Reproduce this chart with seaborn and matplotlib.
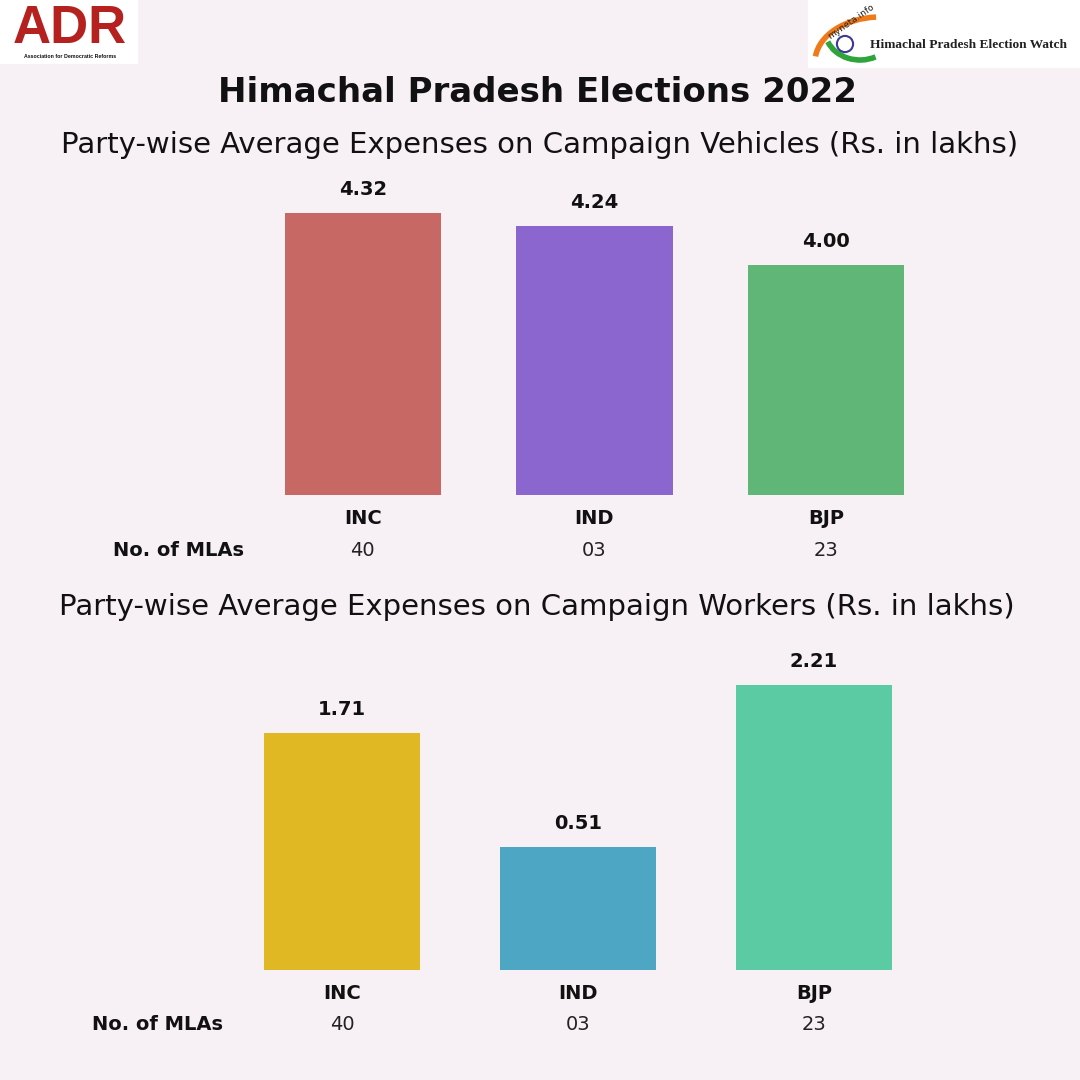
import matplotlib
matplotlib.use("Agg")
import matplotlib.pyplot as plt
import matplotlib.patches as mpatches
from matplotlib.transforms import blended_transform_factory
import seaborn as sns

parties = ["INC", "IND", "BJP"]
vehicle_exp = [4.32, 4.24, 4.00]
worker_exp = [1.71, 0.51, 2.21]
mla_counts = ["40", "03", "23"]
vehicle_colors = ["#C86865", "#8C66CF", "#5FB677"]
worker_colors = ["#E0B824", "#4DA6C4", "#5BCBA3"]

title = "Himachal Pradesh Elections 2022"
sub_vehicles = "Party-wise Average Expenses on Campaign Vehicles (Rs. in lakhs)"
sub_workers = "Party-wise Average Expenses on Campaign Workers (Rs. in lakhs)"

BG = "#F7F0F4"
INK = "#111111"
sns.set_theme(style="white")
plt.rcParams["font.family"] = ["DejaVu Sans"]

W = H = 1080
fig = plt.figure(figsize=(10.8, 10.8), dpi=100, facecolor=BG)


def px_axes(left, top, right, bottom):
    return fig.add_axes([left / W, 1 - bottom / H, (right - left) / W, (bottom - top) / H])


def draw_panel(ax, values, colors, width, ylim, mla_y, mla_x):
    # the original design uses a truncated value axis, so bars start at the axis floor
    base = ylim[0]
    heights = [v - base for v in values]
    sns.barplot(x=parties, y=heights, hue=parties, palette=colors, width=width,
                saturation=1, legend=False, bottom=base, linewidth=0, ax=ax)
    ax.set_facecolor(BG)
    ax.set_xlim(-0.5, 2.5)
    ax.set_ylim(*ylim)
    ax.set_yticks([])
    ax.set_ylabel("")
    ax.set_xlabel("")
    for s in ax.spines.values():
        s.set_visible(False)
    ax.tick_params(axis="x", length=0, pad=10)
    for lbl in ax.get_xticklabels():
        lbl.set_fontweight("bold")
        lbl.set_fontsize(14)
        lbl.set_color(INK)
    for c, v in zip(ax.containers, values):
        ax.bar_label(c, labels=[f"{v:.2f}"], padding=10, fontsize=14,
                     fontweight="bold", color=INK)
    tr = blended_transform_factory(ax.transData, fig.transFigure)
    for i, n in enumerate(mla_counts):
        ax.text(i, 1 - mla_y / H, n, transform=tr, ha="center", va="center",
                fontsize=14, color="#222222")
    fig.text(mla_x / W, 1 - mla_y / H, "No. of MLAs", ha="left", va="center",
             fontsize=14, fontweight="bold", color=INK)


# top panel: vehicles
ax1 = px_axes(247, 180, 942, 495)
draw_panel(ax1, vehicle_exp, vehicle_colors, 0.674, (2.592, 4.519), 550, 113)

# bottom panel: workers
ax2 = px_axes(224, 660, 932, 970)
draw_panel(ax2, worker_exp, worker_colors, 0.665, (-0.78, 2.473), 1025, 92)

# titles
fig.text(537 / W, 1 - 93 / H, title, ha="center", va="center", fontsize=24.5,
         fontweight="bold", color=INK)
fig.text(540 / W, 1 - 145 / H, sub_vehicles, ha="center", va="center",
         fontsize=21, color=INK)
fig.text(537 / W, 1 - 607 / H, sub_workers, ha="center", va="center",
         fontsize=21, color=INK)

# ADR logo (approximation)
fig.patches.append(mpatches.Rectangle((0, 1 - 63 / H), 137 / W, 63 / H,
                                      transform=fig.transFigure, color="white", zorder=0))
fig.text(70 / W, 1 - 29 / H, "ADR", ha="center", va="center", fontsize=38,
         fontweight="bold", color="#B5211F", family=["Liberation Sans", "DejaVu Sans"])
fig.text(70 / W, 1 - 57 / H, "Association for Democratic Reforms", ha="center",
         va="center", fontsize=3.8, fontweight="bold", color=INK,
         family=["Liberation Sans", "DejaVu Sans"])

# myneta logo (approximation)
fig.patches.append(mpatches.Rectangle((808 / W, 1 - 67 / H), 272 / W, 67 / H,
                                      transform=fig.transFigure, color="white", zorder=0))
fig.patches.append(mpatches.Arc((880 / W, 1 - 62 / H), 130 / W, 90 / H, theta1=95, theta2=175,
                                transform=fig.transFigure, color="#F07A1A", lw=4))
fig.patches.append(mpatches.Arc((860 / W, 1 - 30 / H), 70 / W, 60 / H, theta1=200, theta2=300,
                                transform=fig.transFigure, color="#2EA43B", lw=4))
fig.patches.append(mpatches.Circle((845 / W, 1 - 44 / H), 0.0075, transform=fig.transFigure,
                                   fill=False, ec="#3A3A9A", lw=1.5))
fig.text(870 / W, 1 - 45 / H, "Himachal Pradesh Election Watch", ha="left", va="center",
         fontsize=9.6, fontweight="bold", color="#222222",
         family=["Liberation Serif", "DejaVu Serif"])
fig.text(826 / W, 1 - 22 / H, "myneta.info", ha="left", va="center", fontsize=6.5,
         rotation=35, color="#222222")

fig.savefig("out.png", dpi=100, facecolor=BG)
